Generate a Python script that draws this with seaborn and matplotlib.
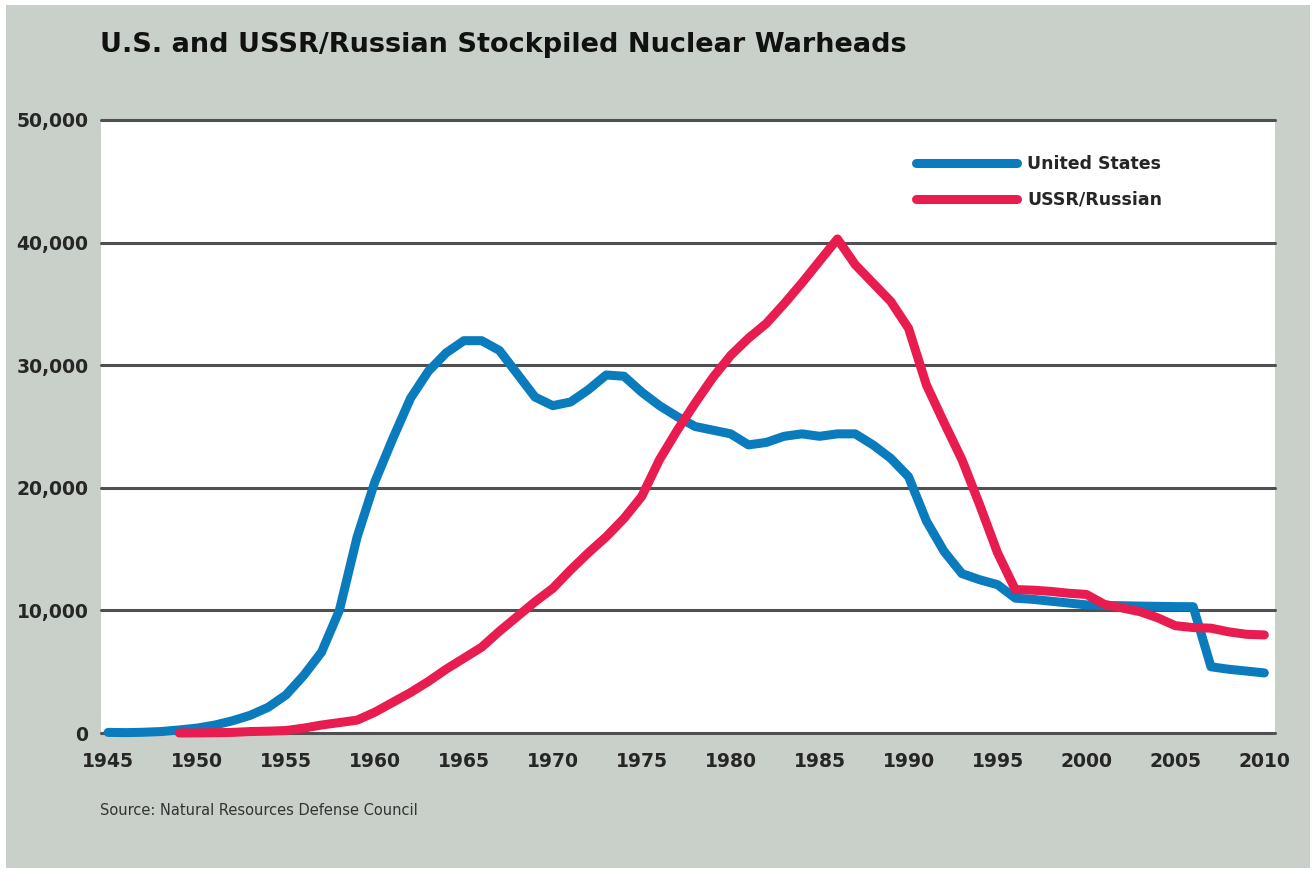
import numpy as np
import pandas as pd
import matplotlib
matplotlib.use("Agg")
import matplotlib.pyplot as plt
from matplotlib.patches import Rectangle
import seaborn as sns

# Valores (ogivas estocadas)
anos_eua = list(range(1945, 2011))
ogivas_eua = [
    50, 30, 60, 120, 250, 400, 650, 1000, 1450, 2100,
    3100, 4700, 6600, 10000, 16000, 20500, 24000, 27300, 29500, 31000,
    32000, 32000, 31200, 29300, 27400, 26700, 27000, 28000, 29200, 29100,
    27800, 26700, 25800, 25000, 24700, 24400, 23500, 23700, 24200, 24400,
    24200, 24400, 24400, 23500, 22400, 20900, 17300, 14800, 13000, 12500,
    12100, 11000, 10900, 10750, 10600, 10450, 10400, 10380, 10350, 10330,
    10310, 10300, 5400, 5200, 5050, 4900,
]

anos_urss = list(range(1949, 2011))
ogivas_urss = [
    0, 5, 25, 50, 120, 150, 200, 400, 650, 850,
    1050, 1700, 2500, 3300, 4200, 5200, 6100, 7000, 8300, 9500,
    10700, 11800, 13300, 14700, 16000, 17500, 19300, 22300, 24700, 26900,
    29000, 30800, 32200, 33400, 35000, 36700, 38500, 40300, 38200, 36700,
    35200, 33000, 28400, 25300, 22300, 18600, 14700, 11700, 11650, 11550,
    11400, 11300, 10500, 10200, 9900, 9400, 8750, 8600, 8550, 8250,
    8050, 8000,
]

rotulos = ["United States", "USSR/Russian"]
cores = {"United States": "#0a7bbd", "USSR/Russian": "#e81c4f"}
ticks_x = list(range(1945, 2011, 5))
ticks_y = [0, 10000, 20000, 30000, 40000, 50000]

df = pd.concat([
    pd.DataFrame({"ano": anos_eua, "ogivas": ogivas_eua, "pais": rotulos[0]}),
    pd.DataFrame({"ano": anos_urss, "ogivas": ogivas_urss, "pais": rotulos[1]}),
], ignore_index=True)

FUNDO = "#c9cfc9"

sns.set_style("white")
fig = plt.figure(figsize=(13.16, 8.71), dpi=100, facecolor="white")
fig.patches.append(Rectangle((6 / 1316, 3 / 871), 1304 / 1316, 863 / 871,
                             transform=fig.transFigure, facecolor=FUNDO,
                             edgecolor="none", zorder=-10))

ax = fig.add_axes([101 / 1316, 138 / 871, 1174 / 1316, 613 / 871])
ax.set_facecolor("white")

sns.lineplot(data=df, x="ano", y="ogivas", hue="pais", hue_order=rotulos,
             palette=cores, linewidth=6.5, ax=ax, zorder=3)

for linha in ax.lines:
    linha.set_solid_capstyle("round")
    linha.set_solid_joinstyle("round")
    linha.set_clip_on(False)

ax.set_xlim(1944.6, 2010.6)
ax.set_ylim(0, 50000)
ax.set_xticks(ticks_x)
ax.set_yticks(ticks_y)
ax.set_xticklabels([str(t) for t in ticks_x], fontsize=13.5, fontweight="bold")
ax.set_yticklabels([f"{t:,}" for t in ticks_y], fontsize=13.5, fontweight="bold")
ax.tick_params(axis="y", length=0, pad=9)
ax.tick_params(axis="x", length=0, pad=14)
ax.set_xlabel("")
ax.set_ylabel("")

for s in ax.spines.values():
    s.set_visible(False)

for v in ticks_y:
    ax.axhline(v, color="#505050", linewidth=2.2, zorder=2, clip_on=False)

leg = ax.legend(loc="upper left", bbox_to_anchor=(0.681, 0.968), frameon=False,
                handlelength=5.8, handletextpad=0.6, labelspacing=1.0,
                prop={"weight": "bold", "size": 12.5})
for h in leg.get_lines():
    h.set_linewidth(6.5)
    h.set_solid_capstyle("round")

fig.text(100 / 1316, 1 - 45 / 871, "U.S. and USSR/Russian Stockpiled Nuclear Warheads",
         fontsize=19.5, fontweight="bold", va="center", ha="left", color="#111111")
fig.text(100 / 1316, 1 - 810 / 871, "Source: Natural Resources Defense Council",
         fontsize=10.5, va="center", ha="left", color="#333333")

fig.savefig("out.png", dpi=100, facecolor=fig.get_facecolor())
